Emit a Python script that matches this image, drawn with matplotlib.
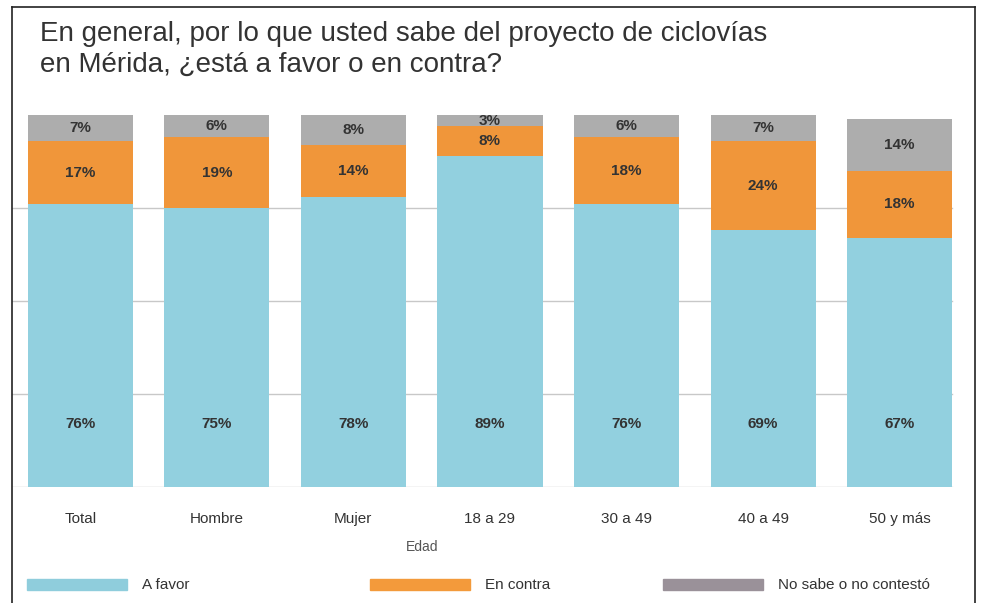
import matplotlib.pyplot as plt
from matplotlib.patches import Rectangle
from matplotlib.lines import Line2D
import numpy as np

# data
categories = ['Total', 'Hombre', 'Mujer', '18 a 29', '30 a 49', '40 a 49', '50 y más']
a_favor = [76, 75, 78, 89, 76, 69, 67]
en_contra = [17, 19, 14, 8, 18, 24, 18]
no_sabe = [7, 6, 8, 3, 6, 7, 14]
series_names = ['A favor', 'En contra', 'No sabe o no contestó']

plt.rcParams['font.family'] = ['Liberation Sans', 'DejaVu Sans']

bar_colors = ['#92D0DF', '#F0963A', '#ADADAD']
legend_colors = ['#8FCDDC', '#F39A3B', '#9A9199']
text_color = '#333333'

fig = plt.figure(figsize=(9.83, 6.03), dpi=100)
ax = fig.add_axes([12 / 983, (603 - 487) / 603, (968 - 12) / 983, (487 - 115) / 603])

x = np.arange(len(categories))
width = 0.77
a = np.array(a_favor)
c = np.array(en_contra)
n = np.array(no_sabe)

ax.bar(x, a, width, color=bar_colors[0], zorder=2)
ax.bar(x, c, width, bottom=a, color=bar_colors[1], zorder=2)
ax.bar(x, n, width, bottom=a + c, color=bar_colors[2], zorder=2)

# labels
for i in range(len(categories)):
    ax.text(x[i], 17, f'{a[i]}%', ha='center', va='center', fontsize=11,
            fontweight='bold', color=text_color, zorder=3)
    ax.text(x[i], a[i] + c[i] / 2, f'{c[i]}%', ha='center', va='center', fontsize=11,
            fontweight='bold', color=text_color, zorder=3)
    ax.text(x[i], a[i] + c[i] + n[i] / 2, f'{n[i]}%', ha='center', va='center', fontsize=11,
            fontweight='bold', color=text_color, zorder=3)

ax.set_xlim(-0.5, 6.5)
ax.set_ylim(0, 100)
for yv in [0, 25, 50, 75]:
    ax.axhline(yv, color='#C8C8C8', lw=1, zorder=1, xmax=(6 + width / 2 + 0.5) / 7)
ax.set_yticks([])
ax.set_xticks(x)
ax.set_xticklabels(categories, fontsize=11, color=text_color)
ax.tick_params(axis='x', length=0, pad=18)
for sp in ax.spines.values():
    sp.set_visible(False)

ax.text(2.5, -16, 'Edad', ha='center', va='center', fontsize=10,
        color='#555555', clip_on=False)

# title
fig.text(40 / 983, 1 - 34 / 603, 'En general, por lo que usted sabe del proyecto de ciclovías',
         fontsize=20, color=text_color, va='center', ha='left')
fig.text(40 / 983, 1 - 65 / 603, 'en Mérida, ¿está a favor o en contra?',
         fontsize=20, color=text_color, va='center', ha='left')

# legend
leg_x = [27, 370, 663]
for lx, col, name in zip(leg_x, legend_colors, series_names):
    fig.patches.append(Rectangle((lx / 983, 1 - 590 / 603), 100 / 983, 11 / 603,
                                 transform=fig.transFigure, color=col))
    fig.text((lx + 115) / 983, 1 - 585 / 603, name, fontsize=11, color=text_color,
             va='center', ha='left')

# frame
fig.add_artist(Line2D([12 / 983, 12 / 983], [0, 1 - 7 / 603], transform=fig.transFigure,
                      color='#222222', lw=1.2))
fig.add_artist(Line2D([975 / 983, 975 / 983], [0, 1 - 7 / 603], transform=fig.transFigure,
                      color='#222222', lw=1.2))
fig.add_artist(Line2D([12 / 983, 975 / 983], [1 - 7 / 603, 1 - 7 / 603], transform=fig.transFigure,
                      color='#222222', lw=1.2))

fig.savefig('out.png', dpi=100)
